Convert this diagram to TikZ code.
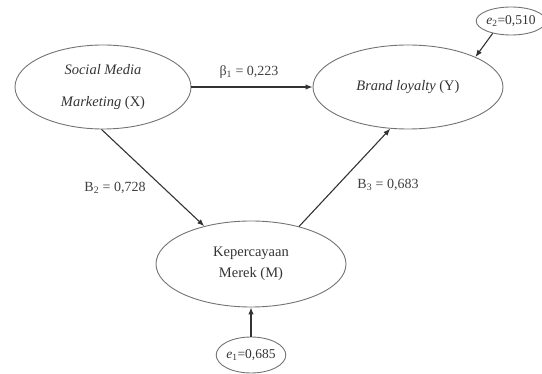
\documentclass[tikz,border=0pt]{standalone}
\usepackage{fontspec}
\setmainfont{Liberation Serif}
\usetikzlibrary{shapes.geometric,arrows.meta}
\begin{document}
\begin{tikzpicture}[x=1pt,y=-1pt,
  latent/.style={ellipse,draw=black!55,line width=0.9pt,inner sep=0pt,text=black!80,font=\fontsize{14.5}{17}\selectfont,align=center},
  errnode/.style={ellipse,draw=black!55,line width=0.9pt,inner sep=0pt,text=black!80,font=\fontsize{13.5}{16}\selectfont},
  path/.style={draw=black!80,line width=1.1pt,-{Latex[length=7pt,width=5.5pt]}},
  coef/.style={text=black!75,font=\fontsize{14}{16}\selectfont,inner sep=1pt}]
\useasboundingbox (0,0) rectangle (542,374);
\node[latent,minimum width=176pt,minimum height=84pt,font=\fontsize{14.5}{32}\selectfont] (X) at (103,87) {\textit{Social Media}\\\textit{Marketing} (X)};
\node[latent,minimum width=190pt,minimum height=84pt] (Y) at (408,87) {\textit{Brand loyalty} (Y)};
\node[latent,minimum width=190pt,minimum height=86pt,font=\fontsize{14.5}{21}\selectfont] (M) at (251,264) {Kepercayaan\\Merek (M)};
\node[errnode,minimum width=64pt,minimum height=36pt] (e1) at (251,355) {\textit{e}\textsubscript{1}=0,685};
\node[errnode,minimum width=62pt,minimum height=28pt] (e2) at (511,21) {\textit{e}\textsubscript{2}=0,510};
\draw[path] (X) -- (Y);
\draw[path] (X.268) -- (M.141);
\draw[path] (M.38) -- (Y.247);
\draw[path] (e1) -- (M);
\draw[path] (e2.214) -- (Y.24);
\node[coef] (b1) at (249,72) {β\textsubscript{1} = 0,223};
\node[coef] (b2) at (115,188) {B\textsubscript{2} = 0,728};
\node[coef] (b3) at (388,185) {B\textsubscript{3} = 0,683};
\end{tikzpicture}
\end{document}
